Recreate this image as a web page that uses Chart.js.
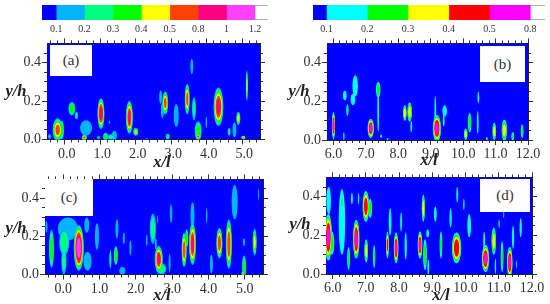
<!DOCTYPE html>
<html>
<head>
<meta charset="utf-8">
<script src="https://cdn.jsdelivr.net/npm/chart.js@4/dist/chart.umd.min.js"></script>
<style>
  html, body { margin: 0; background: #fff; }
  #page { position: relative; width: 550px; height: 304px; overflow: hidden; filter: blur(0.4px); font-family: "Liberation Serif", serif; color: #333; }
  canvas { position: absolute; }
  .box { position: absolute; background: #fff; font-size: 15px; display: flex; align-items: center; justify-content: center; }
  .title { position: absolute; font-weight: bold; font-style: italic; font-size: 16.5px; color: #222; transform: translate(-50%, -50%); white-space: nowrap; }
</style>
</head>
<body>
<div id="page"></div>
<script>
// colour levels, lowest band first
const coloursWide = ["#0000ff", "#00b4ff", "#00ff80", "#00ff00", "#ffff00", "#ff4000", "#ff0080", "#ff40ff", "#ffffff"];
const coloursNarrow = ["#0000ff", "#00ffff", "#00ff00", "#ffff00", "#ff0000", "#ff00ff", "#ffffff"];
const barWidthsWide = [0.5, 1, 1, 1, 1, 1, 1, 1, 0.46];
const barWidthsNarrow = [0.33, 1, 1, 1, 1, 1, 0.36];
const barLabelsWide = ["0.1", "0.2", "0.3", "0.4", "0.5", "0.8", "1", "1.2"];
const barLabelsNarrow = ["0.1", "0.2", "0.3", "0.4", "0.5", "0.8"];

const ticksLeftPanels = [0, 1, 2, 3, 4, 5];
const ticksRightPanels = [6, 7, 8, 9, 10, 11, 12];
const minorLeftPanels = [-0.4, -0.2, 0.2, 0.4, 0.6, 0.8, 1.2, 1.4, 1.6, 1.8, 2.2, 2.4, 2.6, 2.8, 3.2, 3.4, 3.6, 3.8, 4.2, 4.4, 4.6, 4.8, 5.2, 5.4];
const minorRightPanels = [6.2, 6.4, 6.6, 6.8, 7.2, 7.4, 7.6, 7.8, 8.2, 8.4, 8.6, 8.8, 9.2, 9.4, 9.6, 9.8, 10.2, 10.4, 10.6, 10.8, 11.2, 11.4, 11.6, 11.8];
const ticksY = [0, 0.2, 0.4];
const minorY = [0.05, 0.1, 0.15, 0.25, 0.3, 0.35, 0.45];

// patches: x, y, half width, half height, top band
const patchesA = [
  [-0.2, 0.05, 0.1, 0.06, 5], [-0.08, 0.05, 0.04, 0.05, 3], [-0.43, 0.015, 0.03, 0.012, 1],
  [0.2, 0.16, 0.07, 0.035, 3.5], [0.33, 0.125, 0.03, 0.02, 2],
  [0.6, 0.06, 0.12, 0.04, 1], [0.55, 0.01, 0.05, 0.015, 5],
  [1.02, 0.135, 0.07, 0.08, 6.5], [1.26, 0.09, 0.015, 0.008, 1],
  [1.15, 0.015, 0.05, 0.02, 3], [1.3, 0.012, 0.06, 0.015, 2], [1.4, 0.02, 0.05, 0.025, 1], [0.95, 0.01, 0.03, 0.01, 1],
  [1.82, 0.115, 0.07, 0.085, 6], [2.0, 0.04, 0.05, 0.02, 4], [2.3, 0.004, 0.02, 0.004, 1],
  [2.7, 0.22, 0.03, 0.035, 1], [2.83, 0.19, 0.06, 0.06, 5], [2.75, 0.15, 0.03, 0.04, 1],
  [2.9, 0.015, 0.04, 0.015, 3], [3.14, 0.125, 0.05, 0.06, 1.5],
  [3.45, 0.21, 0.05, 0.08, 5], [3.64, 0.16, 0.04, 0.06, 2], [3.58, 0.38, 0.03, 0.04, 1],
  [3.76, 0.045, 0.07, 0.05, 3], [3.76, 0.015, 0.05, 0.015, 5], [3.99, 0.09, 0.015, 0.03, 1],
  [4.33, 0.17, 0.1, 0.1, 6], [4.63, 0.04, 0.03, 0.02, 2],
  [4.89, 0.11, 0.04, 0.035, 4], [4.78, 0.05, 0.04, 0.04, 1], [5.03, 0.01, 0.04, 0.01, 5],
  [5.13, 0.28, 0.02, 0.08, 4]
];
const patchesB = [
  [6.0, 0.075, 0.035, 0.07, 5], [6.32, 0.02, 0.015, 0.02, 1], [6.35, 0.23, 0.04, 0.025, 1],
  [6.43, 0.155, 0.025, 0.03, 2], [6.6, 0.21, 0.05, 0.03, 1], [6.67, 0.28, 0.06, 0.055, 1],
  [7.38, 0.26, 0.05, 0.04, 2], [7.38, 0.15, 0.02, 0.11, 1], [7.15, 0.06, 0.07, 0.05, 5],
  [7.47, 0.02, 0.02, 0.008, 1], [7.67, 0.005, 0.02, 0.005, 1],
  [8.2, 0.14, 0.04, 0.04, 3], [8.35, 0.145, 0.05, 0.05, 3], [8.4, 0.07, 0.02, 0.03, 1],
  [9.14, 0.13, 0.02, 0.1, 1], [9.19, 0.06, 0.09, 0.07, 5],
  [9.43, 0.15, 0.05, 0.03, 1], [9.4, 0.1, 0.02, 0.03, 1],
  [10.08, 0.03, 0.04, 0.03, 3], [10.2, 0.09, 0.04, 0.05, 2.5], [10.45, 0.09, 0.02, 0.06, 1], [10.47, 0.22, 0.02, 0.03, 1],
  [10.73, 0.008, 0.02, 0.008, 1], [10.96, 0.045, 0.04, 0.045, 3], [11.27, 0.05, 0.06, 0.055, 3],
  [11.53, 0.02, 0.03, 0.02, 2], [11.82, 0.045, 0.03, 0.035, 2]
];
const patchesC = [
  [-0.46, 0.25, 0.02, 0.03, 1], [-0.32, 0.135, 0.05, 0.1, 3.5],
  [0.13, 0.24, 0.2, 0.06, 1], [0.03, 0.17, 0.1, 0.07, 2.5], [0.02, 0.07, 0.05, 0.07, 2],
  [0.43, 0.14, 0.1, 0.12, 7.5], [0.65, 0.26, 0.05, 0.04, 1], [0.67, 0.07, 0.08, 0.05, 1.5],
  [0.93, 0.2, 0.04, 0.07, 1], [1.3, 0.08, 0.02, 0.05, 2.5], [1.45, 0.1, 0.04, 0.05, 3.5], [1.48, 0.24, 0.03, 0.05, 1],
  [1.67, 0.19, 0.02, 0.03, 1], [1.85, 0.14, 0.02, 0.04, 1], [1.63, 0.02, 0.06, 0.02, 1.5], [2.3, 0.18, 0.015, 0.03, 1],
  [2.47, 0.24, 0.06, 0.08, 2], [2.55, 0.16, 0.02, 0.03, 1], [2.63, 0.08, 0.08, 0.07, 6], [2.7, 0.03, 0.1, 0.03, 2.5],
  [2.97, 0.32, 0.025, 0.05, 1], [2.93, 0.06, 0.02, 0.05, 1], [2.6, 0.29, 0.01, 0.02, 1],
  [3.33, 0.13, 0.05, 0.09, 5.5], [3.4, 0.19, 0.03, 0.05, 3], [3.56, 0.16, 0.07, 0.11, 6], [3.56, 0.31, 0.04, 0.07, 1],
  [3.95, 0.31, 0.015, 0.04, 1], [4.08, 0.055, 0.03, 0.05, 1.5], [4.3, 0.165, 0.06, 0.08, 5.5], [4.56, 0.16, 0.06, 0.13, 5.5],
  [4.72, 0.38, 0.06, 0.09, 1.5], [4.98, 0.17, 0.02, 0.02, 1], [4.98, 0.04, 0.04, 0.06, 3], [4.95, 0.005, 0.03, 0.01, 5],
  [5.27, 0.17, 0.04, 0.07, 4], [5.38, 0.42, 0.01, 0.03, 1]
];
const patchesD = [
  [5.87, 0.19, 0.08, 0.12, 5], [5.98, 0.16, 0.05, 0.06, 2], [5.88, 0.38, 0.05, 0.07, 1],
  [6.28, 0.27, 0.07, 0.17, 1], [6.28, 0.37, 0.02, 0.03, 2], [6.48, 0.08, 0.03, 0.06, 2],
  [6.58, 0.39, 0.02, 0.03, 1], [6.78, 0.39, 0.015, 0.03, 1], [6.71, 0.18, 0.07, 0.1, 5],
  [7.0, 0.35, 0.07, 0.08, 4.5], [7.13, 0.34, 0.04, 0.05, 2], [7.01, 0.12, 0.04, 0.06, 3], [7.25, 0.09, 0.025, 0.06, 2],
  [7.65, 0.15, 0.03, 0.07, 4], [7.73, 0.27, 0.03, 0.07, 1], [7.91, 0.135, 0.05, 0.08, 5],
  [8.06, 0.27, 0.02, 0.05, 1], [8.2, 0.145, 0.025, 0.07, 1],
  [8.63, 0.15, 0.05, 0.07, 5], [8.78, 0.1, 0.04, 0.08, 2], [8.88, 0.035, 0.02, 0.04, 1],
  [8.73, 0.34, 0.035, 0.07, 3], [8.86, 0.21, 0.03, 0.02, 1], [9.09, 0.31, 0.03, 0.04, 1], [9.26, 0.15, 0.03, 0.07, 2],
  [9.55, 0.29, 0.025, 0.05, 1], [9.75, 0.41, 0.02, 0.04, 1], [9.95, 0.36, 0.015, 0.03, 1], [10.11, 0.25, 0.04, 0.06, 1.5],
  [9.73, 0.135, 0.1, 0.08, 4.5], [10.6, 0.08, 0.08, 0.07, 5], [10.56, 0.17, 0.02, 0.05, 1], [10.85, 0.17, 0.05, 0.07, 3],
  [10.9, 0.04, 0.015, 0.04, 1], [11.1, 0.09, 0.03, 0.08, 2], [11.01, 0.26, 0.015, 0.02, 1], [11.15, 0.31, 0.01, 0.02, 1],
  [11.33, 0.06, 0.06, 0.08, 5], [11.43, 0.19, 0.025, 0.06, 1], [11.53, 0.05, 0.01, 0.02, 1], [11.66, 0.24, 0.025, 0.05, 1]
];

const page = document.getElementById("page");
const serif = "'Liberation Serif', serif";
const widen = 1.4;

function addCanvas(left, top, w, h) {
  const c = document.createElement("canvas");
  c.width = w;
  c.height = h;
  c.style.cssText = `left:${left}px;top:${top}px;width:${w}px;height:${h}px`;
  page.appendChild(c);
  return c;
}

function addDiv(cls, css, text) {
  const d = document.createElement("div");
  d.className = cls;
  d.style.cssText = css;
  d.textContent = text;
  page.appendChild(d);
}

// nested ellipses, one dataset per band, through the chart's scales
const patchPlugin = {
  id: "patches",
  beforeDatasetsDraw(chart) {
    const { ctx, chartArea: a, scales } = chart;
    ctx.save();
    ctx.beginPath();
    ctx.rect(a.left, a.top, a.width, a.height);
    ctx.clip();
    ctx.fillStyle = chart.options.plugins.patches.background;
    ctx.fillRect(a.left, a.top, a.width, a.height);
    chart.data.datasets.forEach((ds) => {
      ctx.fillStyle = ds.backgroundColor;
      ds.data.forEach((p) => {
        const s = Math.sqrt(1 - (ds.band - 1) / p.peak);
        const cx = scales.x.getPixelForValue(p.x);
        const cy = scales.y.getPixelForValue(p.y);
        const rx = Math.abs(scales.x.getPixelForValue(p.x + p.rx * s * widen) - cx);
        const ry = Math.abs(scales.y.getPixelForValue(p.y + p.ry * s) - cy);
        ctx.beginPath();
        ctx.ellipse(cx, cy, rx, ry, 0, 0, Math.PI * 2);
        ctx.fill();
      });
    });
    ctx.restore();
  }
};

function side(position, values, length, size, showLabels, showBorder, min, max, labelOffset) {
  const font = { family: serif, size: 14 };
  return {
    type: "linear", position, min, max, weight: showBorder ? 1 : 0,
    grid: { drawOnChartArea: false, tickLength: length, tickColor: "#333", tickWidth: 1 },
    border: { display: showBorder, color: "#222", width: 1 },
    ticks: { display: showLabels, autoSkip: false, maxRotation: 0, color: "#333", font, padding: 1, labelOffset: labelOffset || 0, callback: (v) => v.toFixed(1) },
    afterBuildTicks: (s) => { s.ticks = values.map((value) => ({ value })); },
    afterFit: (s) => {
      if (s.isHorizontal()) s.height = size; else s.width = size;
    }
  };
}

function panel(box, plot, xMin, major, minor, patches, colours) {
  const bands = colours.slice(1, -1).map((colour, i) => ({
    band: i + 1,
    backgroundColor: colour,
    pointRadius: 0,
    data: patches.filter((p) => p[4] >= i + 1).map((p) => ({ x: p[0], y: p[1], rx: p[2], ry: p[3], peak: p[4] }))
  }));
  const xMax = minor === minorLeftPanels ? 5.5 : 12;
  new Chart(addCanvas(box.left, box.top, box.w, box.h), {
    type: "scatter",
    data: { datasets: bands },
    options: {
      responsive: false,
      animation: false,
      layout: { padding: 0 },
      plugins: { legend: { display: false }, tooltip: { enabled: false }, patches: { background: colours[0] } },
      scales: {
        x: side("bottom", major, 5, plot.bottomGap, true, true, xMin, xMax, plot.labelOffset),
        xm: side("bottom", minor, 3, 0, false, false, xMin, xMax),
        xt: side("top", major, 5, plot.topGap, false, true, xMin, xMax),
        xtm: side("top", minor, 3, 0, false, false, xMin, xMax),
        y: side("left", ticksY, 5, plot.leftGap, true, true, 0, 0.5),
        ym: side("left", minorY, 3, 0, false, false, 0, 0.5),
        yr: side("right", ticksY, 5, plot.rightGap, false, true, 0, 0.5),
        yrm: side("right", minorY, 3, 0, false, false, 0, 0.5)
      }
    },
    plugins: [patchPlugin]
  });
}

function colourBar(box, plotLeft, plotRight, widths, colours, labels) {
  const total = widths.reduce((a, b) => a + b, 0);
  const cuts = labels.map((_, i) => widths[0] + i);
  const datasets = widths.map((w, i) => ({
    data: [w],
    backgroundColor: colours[i],
    borderColor: "#999",
    borderWidth: i === widths.length - 1 ? { top: 1, bottom: 1 } : 0,
    barPercentage: 1,
    categoryPercentage: 1
  }));
  new Chart(addCanvas(box.left, box.top, box.w, box.h), {
    type: "bar",
    data: { labels: ["scale"], datasets },
    options: {
      indexAxis: "y",
      responsive: false,
      animation: false,
      layout: { padding: { left: plotLeft - box.left, right: box.left + box.w - plotRight, top: 0, bottom: 0 } },
      plugins: { legend: { display: false }, tooltip: { enabled: false } },
      scales: {
        y: { stacked: true, display: false },
        x: {
          stacked: true, min: 0, max: total, position: "bottom",
          grid: { display: false, drawTicks: false },
          border: { display: false },
          ticks: {
            autoSkip: false, maxRotation: 0, padding: 3, color: "#333",
            font: { family: serif, size: 10 },
            callback: (v) => labels[cuts.findIndex((c) => Math.abs(c - v) < 0.001)]
          },
          afterBuildTicks: (s) => { s.ticks = cuts.map((value) => ({ value })); },
          afterFit: (s) => { s.height = box.h - 15; }
        }
      }
    }
  });
}

colourBar({ left: 30, top: 5, w: 250, h: 30 }, 42, 268, barWidthsWide, coloursWide, barLabelsWide);
colourBar({ left: 300, top: 5, w: 250, h: 30 }, 313, 545, barWidthsNarrow, coloursNarrow, barLabelsNarrow);

panel({ left: 0, top: 34, w: 275, h: 126 }, { leftGap: 47, rightGap: 15, topGap: 9, bottomGap: 20.5, labelOffset: 2 }, -0.5, ticksLeftPanels, minorLeftPanels, patchesA, coloursWide);
panel({ left: 275, top: 34, w: 275, h: 126 }, { leftGap: 52, rightGap: 22, topGap: 9, bottomGap: 20 }, 5.8, ticksRightPanels, minorRightPanels, patchesB, coloursNarrow);
panel({ left: 0, top: 170, w: 275, h: 126 }, { leftGap: 45, rightGap: 12, topGap: 9, bottomGap: 21.5 }, -0.5, ticksLeftPanels, minorLeftPanels, patchesC, coloursWide);
panel({ left: 275, top: 168, w: 275, h: 126 }, { leftGap: 51, rightGap: 18, topGap: 9, bottomGap: 20 }, 5.8, ticksRightPanels, minorRightPanels, patchesD, coloursNarrow);

addDiv("box", "left:50px;top:45px;width:42px;height:31px", "(a)");
addDiv("box", "left:480px;top:46px;width:45px;height:36px", "(b)");
addDiv("box", "left:45px;top:179px;width:48px;height:37px", "(c)");
addDiv("box", "left:480px;top:179px;width:50px;height:33px", "(d)");

addDiv("title", "left:162px;top:162px", "x/l");
addDiv("title", "left:429px;top:160px", "x/l");
addDiv("title", "left:162px;top:295px", "x/l");
addDiv("title", "left:441px;top:295px", "x/l");
addDiv("title", "left:16px;top:91px", "y/h");
addDiv("title", "left:299px;top:91px", "y/h");
addDiv("title", "left:16px;top:228px", "y/h");
addDiv("title", "left:300px;top:224px", "y/h");
</script>
</body>
</html>
